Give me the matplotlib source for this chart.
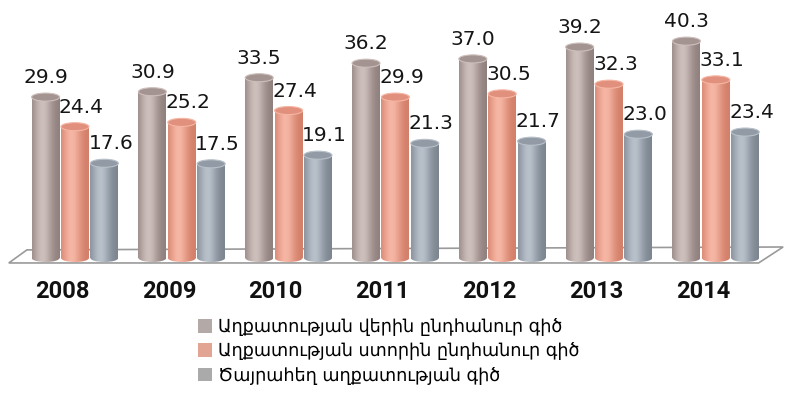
import numpy as np
import matplotlib
matplotlib.use("Agg")
import matplotlib.pyplot as plt
from matplotlib.patches import Ellipse, Polygon, Patch

# data
years = ['2008', '2009', '2010', '2011', '2012', '2013', '2014']
upper_line = [29.9, 30.9, 33.5, 36.2, 37.0, 39.2, 40.3]
lower_line = [24.4, 25.2, 27.4, 29.9, 30.5, 32.3, 33.1]
extreme_line = [17.6, 17.5, 19.1, 21.3, 21.7, 23.0, 23.4]
series_names = ['Աղքատության վերին ընդհանուր գիծ',
                'Աղքատության ստորին ընդհանուր գիծ',
                'Ծայրահեղ աղքատության գիծ']

# (light, dark, cap, legend) colours per series
styles = [('#cdbfbc', '#8f7f7c', '#a39391', '#b3aaa8'),
          ('#f6b6a4', '#d27d67', '#e0907c', '#e2a594'),
          ('#b8c0ca', '#7a848f', '#929ba5', '#aaaaaa')]

plt.rcParams['font.family'] = ['DejaVu Sans']

fig = plt.figure(figsize=(7.92, 4.05), dpi=100)
ax = fig.add_axes([0, 0.3232, 1, 0.6642])
ax.set_xlim(-0.702, 6.713)
ax.set_ylim(-3, 47)
ax.axis('off')

# floor of the 3d plot area
floor = Polygon([(-0.62, -0.93), (-0.45, 1.5), (6.63, 2.04), (6.40, -0.93)],
                closed=True, facecolor='white', edgecolor='#9a9a9a', lw=1.2, zorder=1)
ax.add_patch(floor)

bw = 0.262
pitch = 0.275
eh = 1.5
x = np.arange(len(years))

t = np.linspace(0, 1, 64)
w = np.exp(-((t - 0.38) / 0.34) ** 2)


def gradient(light, dark):
    l = np.array(matplotlib.colors.to_rgb(light))
    d = np.array(matplotlib.colors.to_rgb(dark))
    img = d[None, :] + (l - d)[None, :] * w[:, None]
    return img[None, :, :]


all_series = [upper_line, lower_line, extreme_line]
for k, vals in enumerate(all_series):
    light, dark, cap, _ = styles[k]
    img = gradient(light, dark)
    xs = x + (k - 1) * pitch
    bars = ax.bar(xs, vals, width=bw, color='none', edgecolor='none', zorder=3)
    for xc, v, b in zip(xs, vals, bars):
        im = ax.imshow(img, extent=[xc - bw / 2, xc + bw / 2, -eh, v],
                       aspect='auto', zorder=3, interpolation='bilinear')
        im.set_clip_path(b)
        bot = Ellipse((xc, 0), bw, eh, facecolor='none', edgecolor='none', zorder=3)
        ax.add_patch(bot)
        im2 = ax.imshow(img, extent=[xc - bw / 2, xc + bw / 2, -eh, v],
                        aspect='auto', zorder=3, interpolation='bilinear')
        im2.set_clip_path(bot)
        ax.add_patch(Ellipse((xc, v), bw, eh, facecolor=cap,
                             edgecolor=light, lw=0.8, zorder=4))
        ax.text(xc + (0.0 if k == 0 else 0.06), v + 2.6, f'{v:.1f}',
                ha='center', va='baseline', fontsize=14.5, color='#151515', zorder=5)

for xi, yr in zip(x, years):
    ax.text(xi - 0.12, -6.3, yr, ha='center', va='center', fontsize=17,
            fontweight='bold', family='Roboto', color='#111111')

handles = [Patch(facecolor=s[3], edgecolor='none') for s in styles]
fig.legend(handles, series_names, loc='upper left', bbox_to_anchor=(0.25, 0.215),
           frameon=False, fontsize=12.7, handlelength=0.8, handleheight=0.8,
           handletextpad=0.35, labelspacing=0.36, borderpad=0, borderaxespad=0)

fig.savefig('out.png', dpi=100, facecolor='white')
